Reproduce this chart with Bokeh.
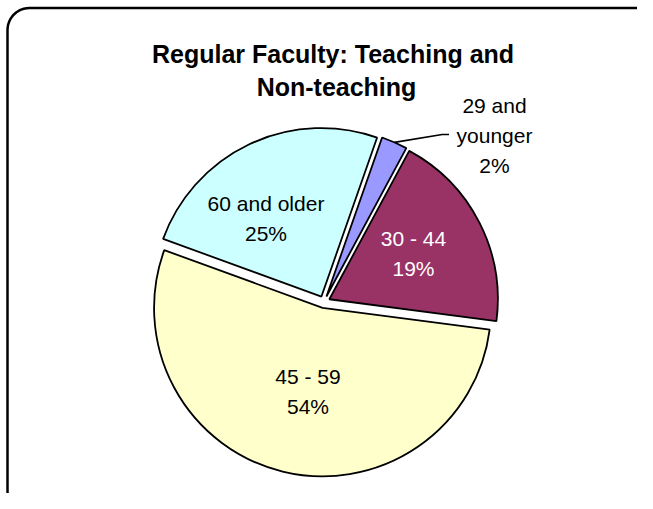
import math
from bokeh.plotting import figure
from bokeh.models import Range1d, ColumnDataSource
from bokeh.core.properties import value
from bokeh.embed import file_html
from bokeh.resources import INLINE

# ---- data ----
categories = ["29 and younger", "30 - 44", "45 - 59", "60 and older"]
shares = [2.5, 19.2, 53.5, 24.8]          # percent
pct_labels = ["2%", "19%", "54%", "25%"]
label_lines = [["29 and", "younger"], ["30 - 44"], ["45 - 59"], ["60 and older"]]
colors = ["#9999FF", "#993366", "#FFFFCC", "#CCFFFF"]
text_colors = ["black", "white", "black", "black"]
title_lines = ["Regular Faculty:  Teaching and", "Non-teaching"]

# ---- layout ----
W, H = 637, 493
OX, OY = 0, 0                   # where the canvas lands in the picture
CX, CY = 323.5, 301.5          # pie centre in picture pixels
R = 168.5                       # radius
EXPLODE = 6.0
FIRST_ANGLE = 70.7              # degrees, start of first slice (clockwise)
TEXT_DY = 8.0                   # svg text renders this much lower than its anchor
# label anchors (centre x, first baseline y) in picture pixels
label_pos = [(494.0, 112.5), (413.0, 246.0), (307.5, 384.3), (265.5, 210.7)]
title_pos = [(336.0, 61.7), (336.0, 94.0)]
LINE_STEP = 30.0
FONT = "Liberation Sans"
# chart border (picture pixels): left, top, right, bottom, corner radius
BOX = (7.0, 7.5, 658.0, 513.0, 22.0)

def dx(x):
    return x - CX

def dy(y):
    return CY - y

p = figure(width=W, height=H, output_backend="svg", toolbar_location=None,
           x_range=Range1d(OX - CX, OX + W - CX), y_range=Range1d(CY - OY - H, CY - OY),
           x_axis_type=None, y_axis_type=None, min_border=0,
           outline_line_color=None, background_fill_color="white")
p.grid.visible = False

total = sum(shares)
starts, ends, xs, ys, mids = [], [], [], [], []
cur = math.radians(FIRST_ANGLE)
for v in shares:
    span = v / total * 2 * math.pi
    s, e = cur, cur - span
    m = (s + e) / 2
    starts.append(s); ends.append(e); mids.append(m)
    xs.append(EXPLODE * math.cos(m)); ys.append(EXPLODE * math.sin(m))
    cur = e

src = ColumnDataSource(dict(x=xs, y=ys, start=starts, end=ends, color=colors, cat=categories))
p.wedge(x="x", y="y", radius=R, start_angle="start", end_angle="end", direction="clock",
        fill_color="color", line_color="black", line_width=1.8, source=src)

# leader line for the small slice
m0 = mids[0]
lx0 = xs[0] + R * math.cos(m0)
ly0 = ys[0] + R * math.sin(m0)
p.line([lx0, dx(441.7), dx(448.5)], [ly0, dy(134.0), dy(134.0)], line_color="black", line_width=1.6)

# labels
tx, ty, tt, tc = [], [], [], []
for i in range(len(categories)):
    x0, y0 = label_pos[i]
    lines = label_lines[i] + [pct_labels[i]]
    for j, s in enumerate(lines):
        tx.append(dx(x0)); ty.append(dy(y0 + j * LINE_STEP - TEXT_DY))
        tt.append(s); tc.append(text_colors[i])
p.text(x=tx, y=ty, text=tt, text_color=tc, text_align="center", text_baseline="alphabetic",
       text_font=value(FONT), text_font_size="21px")

# title
p.text(x=[dx(q[0]) for q in title_pos], y=[dy(q[1] - TEXT_DY) for q in title_pos],
       text=title_lines, text_align="center",
       text_baseline="alphabetic", text_font=value(FONT), text_font_size="25px",
       text_font_style="bold", text_color="black")

# rounded chart border, drawn as a path in picture pixels
l, t, r, b, rad = BOX
bx, by = [], []
def corner(ccx, ccy, a0, a1):
    for k in range(13):
        a = math.radians(a0 + (a1 - a0) * k / 12)
        bx.append(dx(ccx + rad * math.cos(a)))
        by.append(dy(ccy - rad * math.sin(a)))
corner(l + rad, b - rad, 270, 180)
corner(l + rad, t + rad, 180, 90)
corner(r - rad, t + rad, 90, 0)
corner(r - rad, b - rad, 0, -90)
bx.append(bx[0]); by.append(by[0])
p.line(bx, by, line_color="black", line_width=2.5)

open("out.html", "w").write(file_html(p, INLINE))
